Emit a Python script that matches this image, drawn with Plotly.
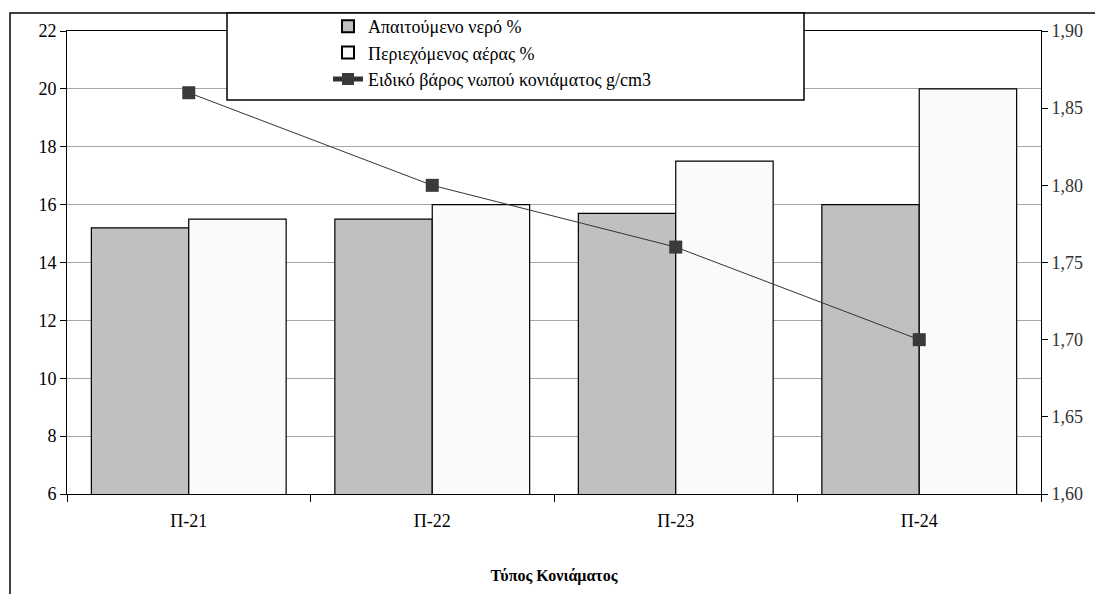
import plotly.graph_objects as go

categories = ["Π-21", "Π-22", "Π-23", "Π-24"]
water = [15.2, 15.5, 15.7, 16.0]
air = [15.5, 16.0, 17.5, 20.0]
density = [1.86, 1.80, 1.76, 1.70]

FONT = "Liberation Serif, Times New Roman, serif"

fig = go.Figure()
fig.add_trace(go.Bar(x=categories, y=water, name="Απαιτούμενο νερό %",
                     marker=dict(color="#c0c0c0", line=dict(color="#000000", width=1.2)),
                     yaxis="y"))
fig.add_trace(go.Bar(x=categories, y=air, name="Περιεχόμενος αέρας %",
                     marker=dict(color="#fafafa", line=dict(color="#000000", width=1.2)),
                     yaxis="y"))
fig.add_trace(go.Scatter(x=categories, y=density, name="Ειδικό βάρος νωπού κονιάματος g/cm3",
                         mode="lines+markers",
                         line=dict(color="#333333", width=1),
                         marker=dict(symbol="square", size=13, color="#3a3a3a"),
                         yaxis="y2"))

OFF = 8  # page body margin
W, H = 1103 - OFF, 594 - OFF
L, R, T, B = 67 - OFF, W - (1041 - OFF), 31 - OFF, H - (494 - OFF)
pw, ph = W - L - R, H - T - B

def px_x(x):
    return (x - OFF - L) / pw

def px_y(y):
    return (H - B - (y - OFF)) / ph

fig.update_layout(
    width=W, height=H,
    margin=dict(l=L, r=R, t=T, b=B, autoexpand=False),
    paper_bgcolor="white", plot_bgcolor="white",
    font=dict(family=FONT, size=18, color="#000000"),
    separators=",.",
    barmode="group", bargap=0.2, bargroupgap=0,
    showlegend=True,
    legend=dict(x=px_x(328), y=px_y(8), xanchor="left", yanchor="top",
                bgcolor="rgba(0,0,0,0)", borderwidth=0,
                font=dict(family=FONT, size=18), tracegroupgap=0,
                itemsizing="constant"),
    xaxis=dict(showline=True, linecolor="#000000", linewidth=1, mirror=True,
               ticks="outside", tickson="boundaries", ticklen=7, tickcolor="#000000",
               ticklabelstandoff=10,
               showgrid=False, tickfont=dict(family=FONT, size=18),
               title=dict(text="<b>Τύπος Κονιάματος</b>", font=dict(family=FONT, size=16), standoff=40)),
    yaxis=dict(range=[6, 22], dtick=2, showline=True, linecolor="#000000", linewidth=1,
               ticks="outside", ticklen=6, tickcolor="#000000",
               showgrid=True, gridcolor="#a6a6a6", gridwidth=1, zeroline=False,
               tickfont=dict(family=FONT, size=18)),
    yaxis2=dict(range=[1.6, 1.9], dtick=0.05, tickformat=".2f", overlaying="y", side="right",
                showline=True, linecolor="#000000", linewidth=1,
                ticks="outside", ticklen=6, tickcolor="#000000",
                showgrid=False, zeroline=False, tickfont=dict(family=FONT, size=18, color="#333333")),
    yaxis3=dict(range=[1.6, 1.9], dtick=0.05, overlaying="y", side="right", anchor="x",
                showline=False, ticks="inside", ticklen=6, tickcolor="#000000",
                showticklabels=False, showgrid=False, zeroline=False),
    shapes=[
        dict(type="rect", xref="paper", yref="paper",
             x0=px_x(10), y0=px_y(700), x1=px_x(1200), y1=px_y(13),
             line=dict(color="#000000", width=1.5), fillcolor="rgba(0,0,0,0)", layer="below"),
        dict(type="rect", xref="paper", yref="paper",
             x0=px_x(227), y0=px_y(100), x1=px_x(804), y1=px_y(13),
             line=dict(color="#000000", width=1.5), fillcolor="white", layer="above"),
    ],
)

fig.write_html("out.html")
